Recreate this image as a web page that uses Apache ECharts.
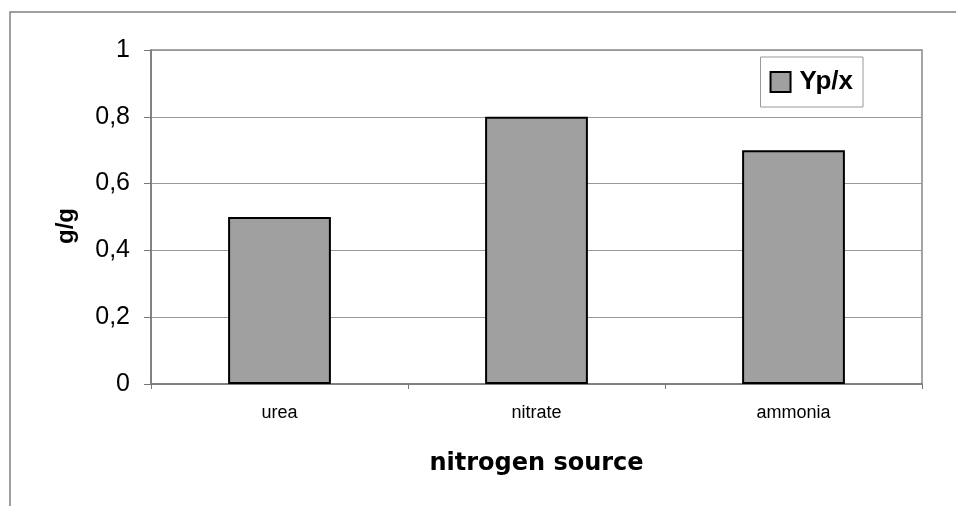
<!DOCTYPE html>
<html>
<head>
<meta charset="utf-8">
<script src="https://cdn.jsdelivr.net/npm/echarts@6/dist/echarts.min.js"></script>
<style>
  html, body { margin: 0; padding: 0; background: #fff; }
  #chart { width: 956px; height: 506px; }
</style>
</head>
<body>
<div id="chart"></div>
<script>
// Yield per biomass for each nitrogen source
const categories = ['urea', 'nitrate', 'ammonia'];
const ypx = [0.5, 0.8, 0.7];
const yTicks = [0, 0.2, 0.4, 0.6, 0.8, 1];

const chart = echarts.init(document.getElementById('chart'));
const fmt = v => String(v).replace('.', ',');

chart.setOption({
  animation: false,
  backgroundColor: '#fff',
  graphic: [
    { type: 'polyline', shape: { points: [[10, 506], [10, 12], [956, 12]] },
      style: { stroke: '#808080', lineWidth: 1.5, fill: null } },
    // vertical axis title
    { type: 'text', x: 66, y: 226, rotation: Math.PI / 2,
      style: { text: 'g/g', fontFamily: 'Liberation Sans', fontWeight: 'bold', fontSize: 24,
               fill: '#000', align: 'center', verticalAlign: 'middle' } }
  ],
  grid: { left: 151, top: 50, right: 34, bottom: 122, show: true, borderColor: '#888', borderWidth: 1.5 },
  legend: {
    right: 93, top: 57, itemWidth: 20, itemHeight: 20, itemGap: 4,
    padding: [12, 10, 12, 9],
    borderColor: '#999', borderWidth: 1, backgroundColor: '#fff',
    itemStyle: { borderColor: '#000', borderWidth: 2 },
    textStyle: { fontFamily: 'Liberation Sans', fontWeight: 'bold', fontSize: 26, color: '#000', padding: [0, 0, 0, 4] },
    data: [{ name: 'Yp/x', icon: 'rect' }]
  },
  xAxis: {
    type: 'category', data: categories,
    name: 'nitrogen source', nameLocation: 'middle', nameGap: 68,
    nameTextStyle: { fontFamily: 'DejaVu Sans', fontWeight: 'bold', fontSize: 24, color: '#000' },
    axisLine: { lineStyle: { color: '#777', width: 1.5 } },
    axisTick: { show: true, length: 5, lineStyle: { color: '#777' } },
    axisLabel: { fontFamily: 'Liberation Sans', fontSize: 18, color: '#000', margin: 20 }
  },
  yAxis: {
    type: 'value', min: 0, max: 1, interval: 0.2,
    axisLine: { show: true, lineStyle: { color: '#777', width: 1.5 } },
    axisTick: { show: true, length: 7, lineStyle: { color: '#777' } },
    axisLabel: { fontFamily: 'Liberation Sans', fontSize: 25, color: '#000', margin: 21,
      formatter: v => yTicks.includes(+v.toFixed(1)) ? fmt(+v.toFixed(1)) : '' },
    splitLine: { lineStyle: { color: '#999', width: 1 } }
  },
  series: [{
    name: 'Yp/x', type: 'bar', data: ypx, barWidth: '40%',
    itemStyle: { color: '#a0a0a0', borderColor: '#000', borderWidth: 2 }
  }]
});
</script>
</body>
</html>
